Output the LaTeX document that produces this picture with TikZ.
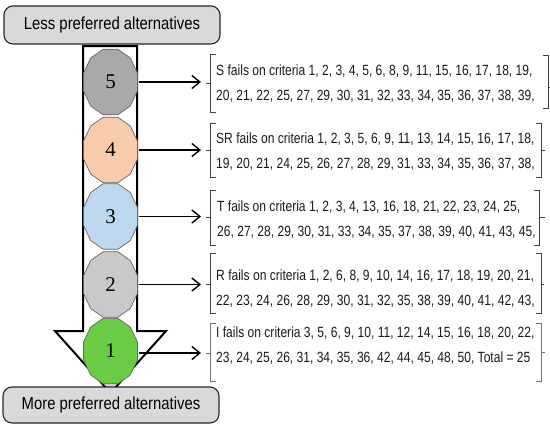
\documentclass[tikz,border=0pt]{standalone}
\usepackage{fontspec}
\setmainfont{Liberation Sans}
\newfontfamily\critfont{Liberation Sans}[FakeStretch=0.815]
\newfontfamily\headfont{Liberation Sans}[FakeStretch=0.85]
\newfontfamily\numfont{Liberation Serif}
\usetikzlibrary{arrows.meta,positioning,calc}
\definecolor{BoxGray}{HTML}{D9D9D9}
\definecolor{RankFive}{HTML}{A9A9A9}
\definecolor{RankFour}{HTML}{F8CBAD}
\definecolor{RankThree}{HTML}{BDD7EE}
\definecolor{RankTwo}{HTML}{C9C9C9}
\definecolor{RankOne}{HTML}{6CCB45}
\tikzset{
  arr/.style={-{Straight Barb[length=8pt,width=13pt,line width=1.4pt]},line width=1.4pt,draw=black},
  headbox/.style={draw=black!85,line width=1.1pt,rounded corners=9pt,fill=BoxGray,minimum width=216pt,font=\headfont\fontsize{17.5}{19}\selectfont},
  bigarrow/.style={draw=black,line width=2pt,line join=miter},
  polyline/.style={draw=black!60,line width=0.7pt},
  numlabel/.style={inner sep=0pt,minimum width=56pt,minimum height=68pt,font=\numfont\fontsize{21}{23}\selectfont},
  critext/.style={anchor=west,inner sep=0pt,align=left,font=\critfont\fontsize{14.8}{25}\selectfont,text=black!90},
  brk/.style={draw=black!75,line width=0.8pt}
}
% stretched dodecagon: y position, fill colour
\newcommand{\rankpoly}[2]{%
  \draw[polyline,fill=#2,shift={(110.5,#1)}] (15:28pt and 34pt)
    \foreach \a in {45,75,...,345}{ -- (\a:28pt and 34pt)} -- cycle;}

\begin{document}
\begin{tikzpicture}[x=1pt,y=-1pt]
  \useasboundingbox (0,0) rectangle (550,429);

  % big downward arrow
  \fill[white] (83,46) -- (137,46) -- (137,331) -- (166,331) -- (110.5,393) -- (55,331) -- (83,331) -- cycle;
  \begin{scope}
    \clip (0,379) rectangle (220,392);
    \fill[BoxGray] (83,46) -- (137,46) -- (137,331) -- (166,331) -- (110.5,393) -- (55,331) -- (83,331) -- cycle;
  \end{scope}
  \draw[bigarrow] (83,46) -- (137,46) -- (137,331) -- (166,331) -- (110.5,393) -- (55,331) -- (83,331) -- cycle;

  \node[headbox,minimum height=38pt] (less) at (112,25) {Less preferred alternatives};
  \node[headbox,minimum height=36pt] (more) at (111,405) {More preferred alternatives};

  % ranked alternatives
  \rankpoly{82}{RankFive}
  \rankpoly{150}{RankFour}
  \rankpoly{216.5}{RankThree}
  \rankpoly{284.5}{RankTwo}
  \rankpoly{351}{RankOne}
  \node[numlabel] (p5) at (110.5,82) {5};
  \node[numlabel] (p4) at (110.5,150) {4};
  \node[numlabel] (p3) at (110.5,216.5) {3};
  \node[numlabel] (p2) at (110.5,284.5) {2};
  \node[numlabel] (p1) at (110.5,351) {1};

  % failed criteria
  \node[critext] (t5) at (216,84) {S fails on criteria 1, 2, 3, 4, 5, 6, 8, 9, 11, 15, 16, 17, 18, 19,\\20, 21, 22, 25, 27, 29, 30, 31, 32, 33, 34, 35, 36, 37, 38, 39,};
  \node[critext] (t4) at (216,152) {SR fails on criteria 1, 2, 3, 5, 6, 9, 11, 13, 14, 15, 16, 17, 18,\\19, 20, 21, 24, 25, 26, 27, 28, 29, 31, 33, 34, 35, 36, 37, 38,};
  \node[critext] (t3) at (217,219.5) {T fails on criteria 1, 2, 3, 4, 13, 16, 18, 21, 22, 23, 24, 25,\\26, 27, 28, 29, 30, 31, 33, 34, 35, 37, 38, 39, 40, 41, 43, 45,};
  \node[critext] (t2) at (216,288.5) {R fails on criteria 1, 2, 6, 8, 9, 10, 14, 16, 17, 18, 19, 20, 21,\\22, 23, 24, 26, 28, 29, 30, 31, 32, 35, 38, 39, 40, 41, 42, 43,};
  \node[critext] (t1) at (216,346) {I fails on criteria 3, 5, 6, 9, 10, 11, 12, 14, 15, 16, 18, 20, 22,\\23, 24, 25, 26, 31, 34, 35, 36, 42, 44, 45, 48, 50, Total = 25};

  % brackets
  \draw[brk] (216,54) -| (210,112) -- (216,112);   \draw[brk] (206,83) -- (210,83);
  \draw[brk] (543,55) -| (548,108) -- (543,108);   \draw[brk] (548,87) -- (553,87);
  \draw[brk] (216,123) -| (210,177) -- (216,177);  \draw[brk] (206,150) -- (210,150);
  \draw[brk] (536,123) -| (541,177) -- (536,177);  \draw[brk] (541,150) -- (545,150);
  \draw[brk] (216,190) -| (210,245) -- (216,245);  \draw[brk] (206,217) -- (210,217);
  \draw[brk] (534,190) -| (539,245) -- (534,245);  \draw[brk] (539,217) -- (545,217);
  \draw[brk] (216,253) -| (210,313) -- (216,313);  \draw[brk] (206,284) -- (210,284);
  \draw[brk] (536,253) -| (541,313) -- (536,313);  \draw[brk] (541,284) -- (544,284);
  \draw[brk,draw=black!55] (216,323) -| (210,381) -- (216,381);  \draw[brk,draw=black!55] (206,353) -- (210,353);
  \draw[brk,draw=black!55] (536,323) -| (541,381) -- (536,381);  \draw[brk,draw=black!55] (541,352) -- (545,352);

  % connectors
  \coordinate (b5) at (201,82);
  \coordinate (b4) at (201,150);
  \coordinate (b3) at (201,216.5);
  \coordinate (b2) at (201,284.5);
  \coordinate (b1) at (201,353);
  \draw[arr] (p5.east) -- (b5);
  \draw[arr] (p4.east) -- (b4);
  \draw[arr] (p3.east) -- (b3);
  \draw[arr] (p2.east) -- (b2);
  \draw[arr] (p1.east |- b1) -- (b1);
\end{tikzpicture}
\end{document}
